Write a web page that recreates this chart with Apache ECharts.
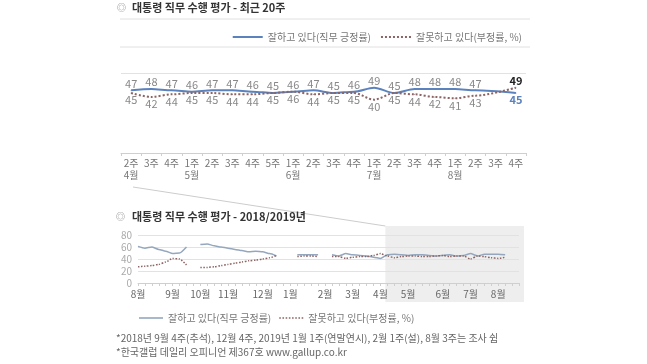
<!DOCTYPE html>
<html><head><meta charset="utf-8">
<script src="https://cdn.jsdelivr.net/npm/echarts@6/dist/echarts.min.js"></script>
<style>html,body{margin:0;padding:0;background:#fff}#c{width:647px;height:364px}</style>
</head><body><div id="c"></div>
<script>
// ---- Upper chart: last 20 weeks ----
const upperWeeks = ['2주','3주','4주','1주','2주','3주','4주','5주','1주','2주','3주','4주','1주','2주','3주','4주','1주','2주','3주','4주'];
const upperMonths = ['4월','','','5월','','','','','6월','','','','7월','','','','8월','','',''];
const upperApprove = [47,48,47,46,47,47,46,45,46,47,45,46,49,45,48,48,48,47,null,45];
const upperDisapprove = [45,42,44,45,45,44,44,45,46,44,45,45,40,45,44,42,41,43,null,49];

// ---- Lower chart: weekly 2018/2019 (Aug 2018 wk1 .. Aug 2019 wk4) ----
const lowerMonthLabels = ['8월','','','','','9월','','','','10월','','','','11월','','','','','12월','','','','1월','','','','','2월','','','','3월','','','','4월','','','','5월','','','','','6월','','','','7월','','','','8월','','',''];
const lowerApprove = [61,58,60,56,53,49,50,60,null,64,65,62,60,58,56,54,52,53,52,49,45,null,null,47,47,47,47,null,47,45,49,47,46,45,43,41,
  47,48,47,46,47,47,46,45,46,47,45,46,49,45,48,48,48,47,null,45];
const lowerDisapprove = [27,28,29,31,35,41,40,30,null,26,26,27,29,31,33,35,37,38,40,42,46,null,null,44,45,45,44,null,44,44,41,43,44,44,46,49,
  45,42,44,45,45,44,44,45,46,44,45,45,40,45,44,42,41,43,null,49];
const zoomStartIndex = 36;

const legendNames = ['잘하고 있다(직무 긍정률)', '잘못하고 있다(부정률, %)'];
const titleUpper = '대통령 직무 수행 평가 - 최근 20주';
const titleLower = '대통령 직무 수행 평가 - 2018/2019년';
const footnote1 = '*2018년 9월 4주(추석), 12월 4주, 2019년 1월 1주(연말연시), 2월 1주(설), 8월 3주는 조사 쉼';
const footnote2 = '*한국갤럽 데일리 오피니언 제367호 www.gallup.co.kr';

const FONT = "'Noto Sans CJK KR', 'Noto Sans', sans-serif";
const BLUE = '#5b82bd';
const RED = '#8c6464';
const LOWBLUE = '#94a7be';
const lastIdx = upperApprove.length - 1;

const SOLID_ICON = 'path://M0,0H30V2H0Z';
const DOT_ICON = 'path://M0,0h2v2h-2zM4,0h2v2h-2zM8,0h2v2h-2zM12,0h2v2h-2zM16,0h2v2h-2zM20,0h2v2h-2zM24,0h2v2h-2zM28,0h2v2h-2z';

function upperData(arr, other, isApprove) {
  return arr.map((v, i) => {
    if (v == null) return null;
    const o = other[i];
    const onTop = isApprove ? v >= o : v > o;
    const item = { value: v, label: { position: onTop ? 'top' : 'bottom' } };
    if (i === lastIdx) {
      item.label.color = isApprove ? BLUE : '#222';
      item.label.fontWeight = 'bold';
    }
    return item;
  });
}

function legendData(c1, c2) {
  return [
    { name: legendNames[0], icon: SOLID_ICON, itemStyle: { color: c1 } },
    { name: legendNames[1], icon: DOT_ICON, itemStyle: { color: c2 } }
  ];
}

const chart = echarts.init(document.getElementById('c'), null, { renderer: 'canvas' });
const option = {
  animation: false,
  textStyle: { fontFamily: FONT },
  legend: [
    { data: legendData(BLUE, RED), right: 120, top: 27, itemWidth: 30, itemHeight: 2, itemGap: 10,
      textStyle: { fontSize: 10, color: '#777', fontFamily: FONT } },
    { data: legendData(LOWBLUE, RED), left: 134, top: 308, itemWidth: 24, itemHeight: 2, itemGap: 8,
      textStyle: { fontSize: 10, color: '#777', fontFamily: FONT } }
  ],
  grid: [
    { left: 121, width: 405, top: 73, height: 80 },
    { left: 138, width: 381, top: 235, height: 48 }
  ],
  xAxis: [
    { type: 'category', gridIndex: 0, data: upperWeeks, boundaryGap: true,
      axisLine: { lineStyle: { color: '#cfcfcf' } },
      axisTick: { show: true, length: 3, lineStyle: { color: '#cfcfcf' } },
      axisLabel: { interval: 0, fontSize: 10, color: '#777', lineHeight: 12, margin: 4,
        formatter: (v, i) => upperMonths[i] ? v + '\n' + upperMonths[i] : v } },
    { type: 'category', gridIndex: 1, data: lowerMonthLabels, boundaryGap: false,
      axisLine: { lineStyle: { color: '#cfcfcf' } },
      axisTick: { show: true, interval: 0, length: 3, lineStyle: { color: '#cfcfcf' } },
      axisLabel: { interval: 0, fontSize: 10, color: '#666', margin: 6 } }
  ],
  yAxis: [
    { type: 'value', gridIndex: 0, min: 0, max: 60, interval: 60,
      axisLabel: { show: false }, axisLine: { show: false }, axisTick: { show: false },
      splitLine: { lineStyle: { color: '#e2e2e2' } } },
    { type: 'value', gridIndex: 1, min: 0, max: 80, interval: 20,
      axisLabel: { fontSize: 10, color: '#aaa', margin: 6 }, axisLine: { show: false }, axisTick: { show: false },
      splitLine: { lineStyle: { color: '#e2e2e2' } } }
  ],
  series: [
    { name: legendNames[0], type: 'line', xAxisIndex: 0, yAxisIndex: 0, connectNulls: true,
      symbol: 'circle', symbolSize: 1, showSymbol: true, smooth: 0.3, smoothMonotone: 'x',
      lineStyle: { color: BLUE, width: 2 }, itemStyle: { color: BLUE },
      label: { show: true, fontSize: 11, color: '#888', distance: 1 },
      data: upperData(upperApprove, upperDisapprove, true) },
    { name: legendNames[1], type: 'line', xAxisIndex: 0, yAxisIndex: 0, connectNulls: true,
      symbol: 'circle', symbolSize: 1, showSymbol: true, smooth: 0.3, smoothMonotone: 'x',
      lineStyle: { color: RED, width: 2, type: 'dotted' }, itemStyle: { color: RED },
      label: { show: true, fontSize: 11, color: '#888', distance: 1 },
      data: upperData(upperDisapprove, upperApprove, false) },
    { name: legendNames[0], type: 'line', xAxisIndex: 1, yAxisIndex: 1, connectNulls: false,
      symbol: 'none', smooth: 0.2, smoothMonotone: 'x', lineStyle: { color: LOWBLUE, width: 1.5 }, itemStyle: { color: LOWBLUE },
      data: lowerApprove },
    { name: legendNames[1], type: 'line', xAxisIndex: 1, yAxisIndex: 1, connectNulls: false,
      symbol: 'none', smooth: 0.2, smoothMonotone: 'x', lineStyle: { color: RED, width: 1.5, type: 'dotted' }, itemStyle: { color: RED },
      data: lowerDisapprove }
  ]
};
chart.setOption(option);

// decorations positioned from the library's own scales
const xStart = chart.convertToPixel({ xAxisIndex: 1 }, zoomStartIndex);
const xEnd = chart.convertToPixel({ xAxisIndex: 1 }, lowerMonthLabels.length - 1);
const boxLeft = xStart - 2, boxRight = xEnd + 5, boxTop = 226, boxBottom = 302;

chart.setOption({
  graphic: [
    { type: 'rect', z: -10, silent: true, shape: { x: boxLeft, y: boxTop, width: boxRight - boxLeft, height: boxBottom - boxTop },
      style: { fill: '#eeeeee' } },
    { type: 'line', z: -5, silent: true, shape: { x1: 133, y1: 187, x2: boxLeft, y2: boxTop }, style: { stroke: '#cccccc', lineWidth: 1 } },
    { type: 'line', silent: true, shape: { x1: 120, y1: 19, x2: 530, y2: 19 }, style: { stroke: '#e0e0e0', lineWidth: 1 } },
    { type: 'line', silent: true, shape: { x1: 120, y1: 47, x2: 530, y2: 47 }, style: { stroke: '#e0e0e0', lineWidth: 1 } },
    { type: 'text', left: 117, top: 3, style: { text: '◎', fontSize: 9, fill: '#777', fontFamily: FONT } },
    { type: 'text', left: 132, top: 2, style: { text: titleUpper, fontSize: 11, fontWeight: 'bold', fill: '#333', fontFamily: FONT } },
    { type: 'text', left: 116, top: 212, style: { text: '◎', fontSize: 9, fill: '#777', fontFamily: FONT } },
    { type: 'text', left: 132, top: 211, style: { text: titleLower, fontSize: 11, fontWeight: 'bold', fill: '#333', fontFamily: FONT } },
    { type: 'text', left: 116, top: 333, style: { text: footnote1, fontSize: 10, fill: '#666', fontFamily: FONT } },
    { type: 'text', left: 116, top: 347, style: { text: footnote2, fontSize: 10, fill: '#666', fontFamily: FONT } }
  ]
});
</script>
</body></html>
